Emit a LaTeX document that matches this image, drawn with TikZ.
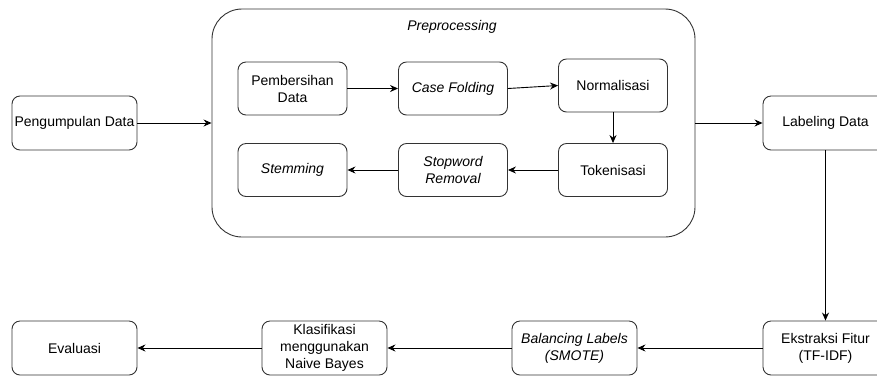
\documentclass[tikz,border=0pt]{standalone}
\usepackage{fontspec}
\setmainfont{Liberation Sans}
\usetikzlibrary{arrows.meta}
\begin{document}
\begin{tikzpicture}[x=1pt,y=-1pt,
  box/.style={draw=black!80, line width=0.9pt, rounded corners=8pt, fill=white,
    minimum width=125pt, minimum height=54pt, align=center, inner sep=1pt,
    font=\fontsize{14}{17}\selectfont},
  ibox/.style={box, minimum width=109pt, minimum height=53pt},
  arr/.style={-{Stealth[length=8pt,width=7pt]}, line width=0.9pt, black}
]
\useasboundingbox (0,0) rectangle (877,376);
\clip (0,0) rectangle (877,376);
% big preprocessing box
\node[draw=black!80, line width=0.9pt, rounded corners=30pt, minimum width=483pt, minimum height=228pt] (prep) at (453.5,123) {};
\node[font=\fontsize{14}{17}\selectfont\itshape] (preplabel) at (452,27) {Preprocessing};

\node[box] (peng) at (74.5,123) {Pengumpulan Data};
\node[ibox] (bers) at (292.5,88.5) {Pembersihan\\Data};
\node[ibox] (case) at (453,88.5) {\itshape Case Folding};
\node[ibox] (norm) at (613,85.5) {Normalisasi};
\node[ibox] (tok) at (613,170) {Tokenisasi};
\node[ibox] (stop) at (453,170) {\itshape Stopword\\\itshape Removal};
\node[ibox] (stem) at (292.5,170) {\itshape Stemming};
\node[box] (lab) at (825.5,123) {Labeling Data};
\node[box] (eks) at (825.5,348) {Ekstraksi Fitur\\(TF-IDF)};
\node[box] (bal) at (574.5,348) {\itshape Balancing Labels\\\itshape (SMOTE)};
\node[box] (kla) at (324.5,348) {Klasifikasi\\menggunakan\\Naive Bayes};
\node[box] (eva) at (74.5,348) {Evaluasi};

\draw[arr] (peng.east) -- (prep.west);
\draw[arr] (bers.east) -- (case.west);
\draw[arr] (case.east) -- (norm.west);
\draw[arr] (norm.south) -- (tok.north);
\draw[arr] (tok.west) -- (stop.east);
\draw[arr] (stop.west) -- (stem.east);
\draw[arr] (prep.east) -- (lab.west);
\draw[arr] (lab.south) -- (eks.north);
\draw[arr] (eks.west) -- (bal.east);
\draw[arr] (bal.west) -- (kla.east);
\draw[arr] (kla.west) -- (eva.east);
\end{tikzpicture}
\end{document}
